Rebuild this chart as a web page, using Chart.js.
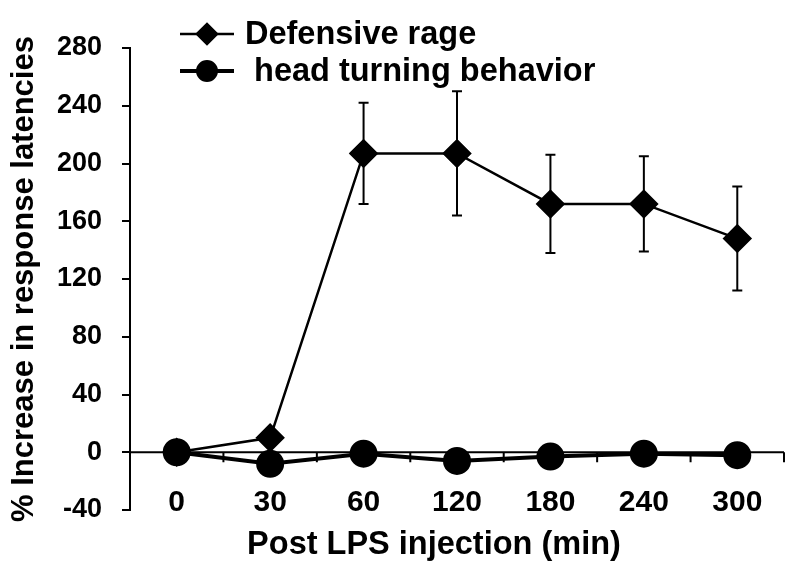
<!DOCTYPE html>
<html>
<head>
<meta charset="utf-8">
<script src="https://cdn.jsdelivr.net/npm/chart.js@4.4.1/dist/chart.umd.min.js"></script>
<style>
  html, body { margin: 0; padding: 0; background: #fff; }
  #wrap { width: 800px; height: 577px; }
</style>
</head>
<body>
<div id="wrap"><canvas id="chart" width="800" height="577"></canvas></div>
<script>
// --- Data ---
const categories = ['0', '30', '60', '120', '180', '240', '300'];
const defensiveRage = [0, 10, 207, 207, 172, 172, 148];
const defensiveErr = [0, 0, 35, 43, 34, 33, 36];
const headTurning = [0, -8, -1, -6, -3, -1, -2];
const headErr = [2, 3, 2, 3, 2, 2, 2];
const yTickValues = [-40, 0, 40, 80, 120, 160, 200, 240, 280];
const xTitle = 'Post LPS injection (min)';

const FONT = "'Liberation Sans', Arial, sans-serif";
Chart.defaults.font.family = FONT;
Chart.defaults.color = '#000';

// error bars + zero line with tick marks between categories
const underlay = {
    id: 'underlay',
    beforeDatasetsDraw(chart) {
        const ctx = chart.ctx;
        const x = chart.scales.x;
        const y = chart.scales.y;
        const area = chart.chartArea;
        const y0 = y.getPixelForValue(0);

        ctx.save();
        ctx.strokeStyle = '#000';
        ctx.lineWidth = 2;
        ctx.beginPath();
        ctx.moveTo(area.left, y0);
        ctx.lineTo(area.right, y0);
        const step = x.getPixelForValue(1) - x.getPixelForValue(0);
        categories.forEach((c, i) => {
            const bx = x.getPixelForValue(i) + step / 2;
            ctx.moveTo(bx, y0);
            ctx.lineTo(bx, y0 + 10);
        });
        ctx.stroke();

        chart.data.datasets.forEach((ds, i) => {
            const meta = chart.getDatasetMeta(i);
            meta.data.forEach((pt, j) => {
                const e = ds.errors[j];
                if (!e) return;
                const top = y.getPixelForValue(ds.data[j] + e);
                const bot = y.getPixelForValue(ds.data[j] - e);
                ctx.beginPath();
                ctx.moveTo(pt.x, top);
                ctx.lineTo(pt.x, bot);
                ctx.moveTo(pt.x - 5, top);
                ctx.lineTo(pt.x + 5, top);
                ctx.moveTo(pt.x - 5, bot);
                ctx.lineTo(pt.x + 5, bot);
                ctx.stroke();
            });
        });
        ctx.restore();
    }
};

// legend (line with marker, then label) and the x axis title
const overlay = {
    id: 'overlay',
    afterDraw(chart) {
        const ctx = chart.ctx;
        const rows = [
            { ds: chart.data.datasets[0], y: 34, text: 'Defensive rage' },
            { ds: chart.data.datasets[1], y: 71, text: ' head turning behavior' }
        ];
        ctx.save();
        ctx.fillStyle = '#000';
        ctx.strokeStyle = '#000';
        rows.forEach(r => {
            ctx.lineWidth = r.ds.borderWidth;
            ctx.beginPath();
            ctx.moveTo(180, r.y);
            ctx.lineTo(234, r.y);
            ctx.stroke();
            Chart.helpers.drawPoint(ctx, {
                pointStyle: r.ds.pointStyle,
                radius: r.ds.pointStyle === 'circle' ? 9 : 10,
                rotation: 0,
                borderWidth: 1
            }, 207, r.y);
            ctx.fill();
            ctx.font = 'bold 32.5px ' + FONT;
            ctx.textBaseline = 'middle';
            ctx.textAlign = 'left';
            ctx.fillText(r.text, 245, r.y + 1);
        });
        ctx.font = 'bold 32.5px ' + FONT;
        ctx.textAlign = 'center';
        ctx.textBaseline = 'middle';
        ctx.fillText(xTitle, 434, 545);
        ctx.restore();
    }
};

new Chart(document.getElementById('chart'), {
    type: 'line',
    data: {
        labels: categories,
        datasets: [
            {
                label: 'Defensive rage',
                data: defensiveRage,
                errors: defensiveErr,
                borderColor: '#000',
                backgroundColor: '#000',
                borderWidth: 2.5,
                pointStyle: 'rectRot',
                pointRadius: 13,
                pointHoverRadius: 13,
                tension: 0,
                order: 1
            },
            {
                label: 'head turning behavior',
                data: headTurning,
                errors: headErr,
                borderColor: '#000',
                backgroundColor: '#000',
                borderWidth: 4,
                pointStyle: 'circle',
                pointRadius: 12,
                pointHoverRadius: 12,
                tension: 0,
                order: 0
            }
        ]
    },
    options: {
        responsive: false,
        animation: false,
        layout: { padding: { top: 48, right: 13, left: 0, bottom: 0 } },
        plugins: { legend: { display: false }, tooltip: { enabled: false } },
        scales: {
            x: {
                offset: true,
                grid: { display: false },
                border: { display: false },
                // mirror keeps the labels unclipped; negative padding pushes them down to the -40 line
                ticks: { color: '#000', font: { size: 30, weight: 'bold' }, mirror: true, padding: -11, maxRotation: 0 },
                afterFit: s => { s.height = 67; }
            },
            y: {
                min: -40,
                max: 280,
                afterBuildTicks: s => { s.ticks = yTickValues.map(v => ({ value: v })); },
                ticks: { color: '#000', font: { size: 27, weight: 'bold' }, padding: 20 },
                grid: { drawOnChartArea: false, drawTicks: true, tickLength: 8, color: '#000', lineWidth: 2 },
                border: { display: true, color: '#000', width: 2 },
                title: { display: true, text: '% Increase in response latencies', color: '#000', font: { size: 31, weight: 'bold' }, padding: { top: 6, bottom: 0 } },
                afterFit: s => { s.width = 130; }
            }
        }
    },
    plugins: [underlay, overlay]
});
</script>
</body>
</html>
